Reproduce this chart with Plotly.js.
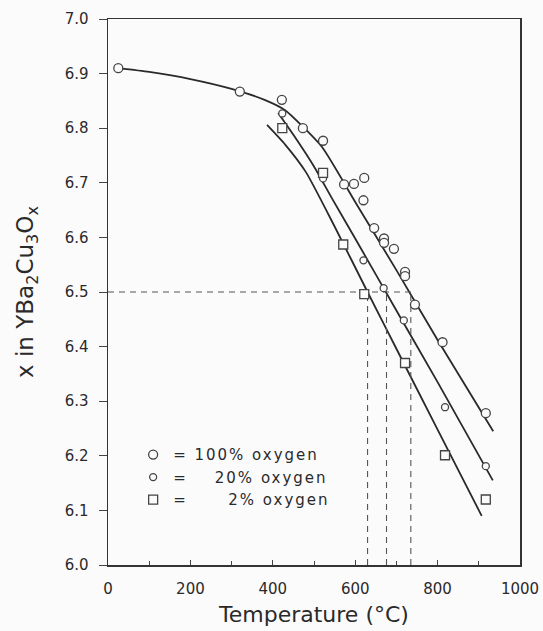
<!DOCTYPE html>
<html><head><meta charset="utf-8">
<script src="https://cdn.plot.ly/plotly-3.0.1.min.js"></script>
<style>html,body{margin:0;padding:0;background:#fcfbfc} .legendtext{letter-spacing:2px}</style>
</head><body><div id="chart" style="width:543px;height:631px"></div>
<script>
// measured points
const temp100 = [25, 320, 422, 473, 522, 573, 597, 622, 620, 646, 670, 670, 694, 721, 721, 745, 812, 917];
const x100    = [6.910, 6.867, 6.852, 6.800, 6.777, 6.697, 6.698, 6.709, 6.668, 6.617, 6.598, 6.590, 6.579, 6.537, 6.529, 6.477, 6.408, 6.278];
const temp20  = [423, 522, 620, 669, 718, 818, 917];
const x20     = [6.827, 6.708, 6.558, 6.507, 6.448, 6.289, 6.181];
const temp2   = [423, 522, 571, 622, 721, 818, 917];
const x2      = [6.800, 6.718, 6.587, 6.496, 6.370, 6.201, 6.120];
// fitted curves
const fitT100 = [25, 100, 200, 300, 380, 430, 470, 520, 600, 700, 800, 935];
const fitX100 = [6.910, 6.903, 6.890, 6.872, 6.852, 6.833, 6.805, 6.765, 6.665, 6.540, 6.412, 6.245];
const fitT20  = [413, 450, 500, 544, 600, 700, 800, 934];
const fitX20  = [6.828, 6.788, 6.730, 6.671, 6.598, 6.466, 6.335, 6.155];
const fitT2   = [386, 430, 480, 550, 630, 700, 800, 907];
const fitX2   = [6.806, 6.770, 6.720, 6.620, 6.500, 6.396, 6.248, 6.090];
// reference level x = 6.5 and the temperatures where each curve reaches it
const refLevel = 6.5;
const refTemps = [630, 676, 735];
const axisMin = 6.0;
const xTicks = [0, 200, 400, 600, 800, 1000];
const yTicks = [6.0, 6.1, 6.2, 6.3, 6.4, 6.5, 6.6, 6.7, 6.8, 6.9, 7.0];
const names = ['=\u00a0100% oxygen', '=\u00a0\u00a0\u00a0\u00a020% oxygen', '=\u00a0\u00a0\u00a0\u00a0\u00a0\u00a02% oxygen'];

const ink = '#2a2a2c';
const traces = [];
const lineStyle = {color: ink, width: 1.8, shape: 'spline', smoothing: 0.6};
traces.push({x: fitT100, y: fitX100, mode: 'lines', line: lineStyle, showlegend: false, hoverinfo: 'skip'});
traces.push({x: fitT20, y: fitX20, mode: 'lines', line: lineStyle, showlegend: false, hoverinfo: 'skip'});
traces.push({x: fitT2, y: fitX2, mode: 'lines', line: lineStyle, showlegend: false, hoverinfo: 'skip'});
// dashed guides
const dash = {color: '#555', width: 1.1, dash: '6px,5px'};
traces.push({x: [0, Math.max(...refTemps)], y: [refLevel, refLevel], mode: 'lines', line: dash, showlegend: false, hoverinfo: 'skip'});
refTemps.forEach(t => traces.push({x: [t, t], y: [axisMin, refLevel], mode: 'lines', line: dash, showlegend: false, hoverinfo: 'skip'}));

const mk = (sym, size) => ({symbol: sym, size: size, color: '#fcfbfc', line: {color: '#444', width: 1.3}});
traces.push({x: temp100, y: x100, mode: 'markers', name: names[0], marker: mk('circle', 9)});
traces.push({x: temp20, y: x20, mode: 'markers', name: names[1], marker: mk('circle', 7)});
traces.push({x: temp2, y: x2, mode: 'markers', name: names[2], marker: mk('square', 9)});

const tickFont = {family: 'DejaVu Sans', size: 15, color: '#2a2a2a'};
const layout = {
  width: 543, height: 631,
  paper_bgcolor: '#fcfbfc', plot_bgcolor: '#fcfbfc',
  margin: {l: 108, r: 23, t: 19, b: 66},
  showlegend: true,
  legend: {x: 0.061, y: 0.232, xanchor: 'left', yanchor: 'top', bgcolor: 'rgba(0,0,0,0)',
           font: {family: 'DejaVu Sans', size: 15, color: '#2a2a2a'}, tracegroupgap: 0, itemwidth: 30},
  xaxis: {range: [0, 1000], tickvals: xTicks, ticktext: xTicks.map(String), ticks: 'inside', ticklen: 5,
          tickcolor: '#444', minor: {dtick: 100, ticks: 'inside', ticklen: 4, tickcolor: '#444'},
          showgrid: false, zeroline: false, showline: true, linecolor: '#333', linewidth: 1.5, mirror: true,
          tickfont: tickFont, ticklabelstandoff: 9,
          title: {text: 'Temperature (°C)', font: {family: 'DejaVu Sans', size: 22, color: '#2a2a2a'}, standoff: 10}},
  yaxis: {range: [6.0, 7.0], tickvals: yTicks, ticktext: yTicks.map(v => v.toFixed(1)), ticks: 'outside', ticklen: 8,
          tickcolor: '#444', showgrid: false, zeroline: false, showline: true, linecolor: '#333', linewidth: 1.5, mirror: true,
          tickfont: tickFont, ticklabelstandoff: 7,
          title: {text: 'x in YBa<sub>2</sub>Cu<sub>3</sub>O<sub>x</sub>', font: {family: 'DejaVu Sans', size: 23, color: '#2a2a2a'}, standoff: 24}}
};
Plotly.newPlot('chart', traces, layout, {displayModeBar: false, staticPlot: true});
</script></body></html>
